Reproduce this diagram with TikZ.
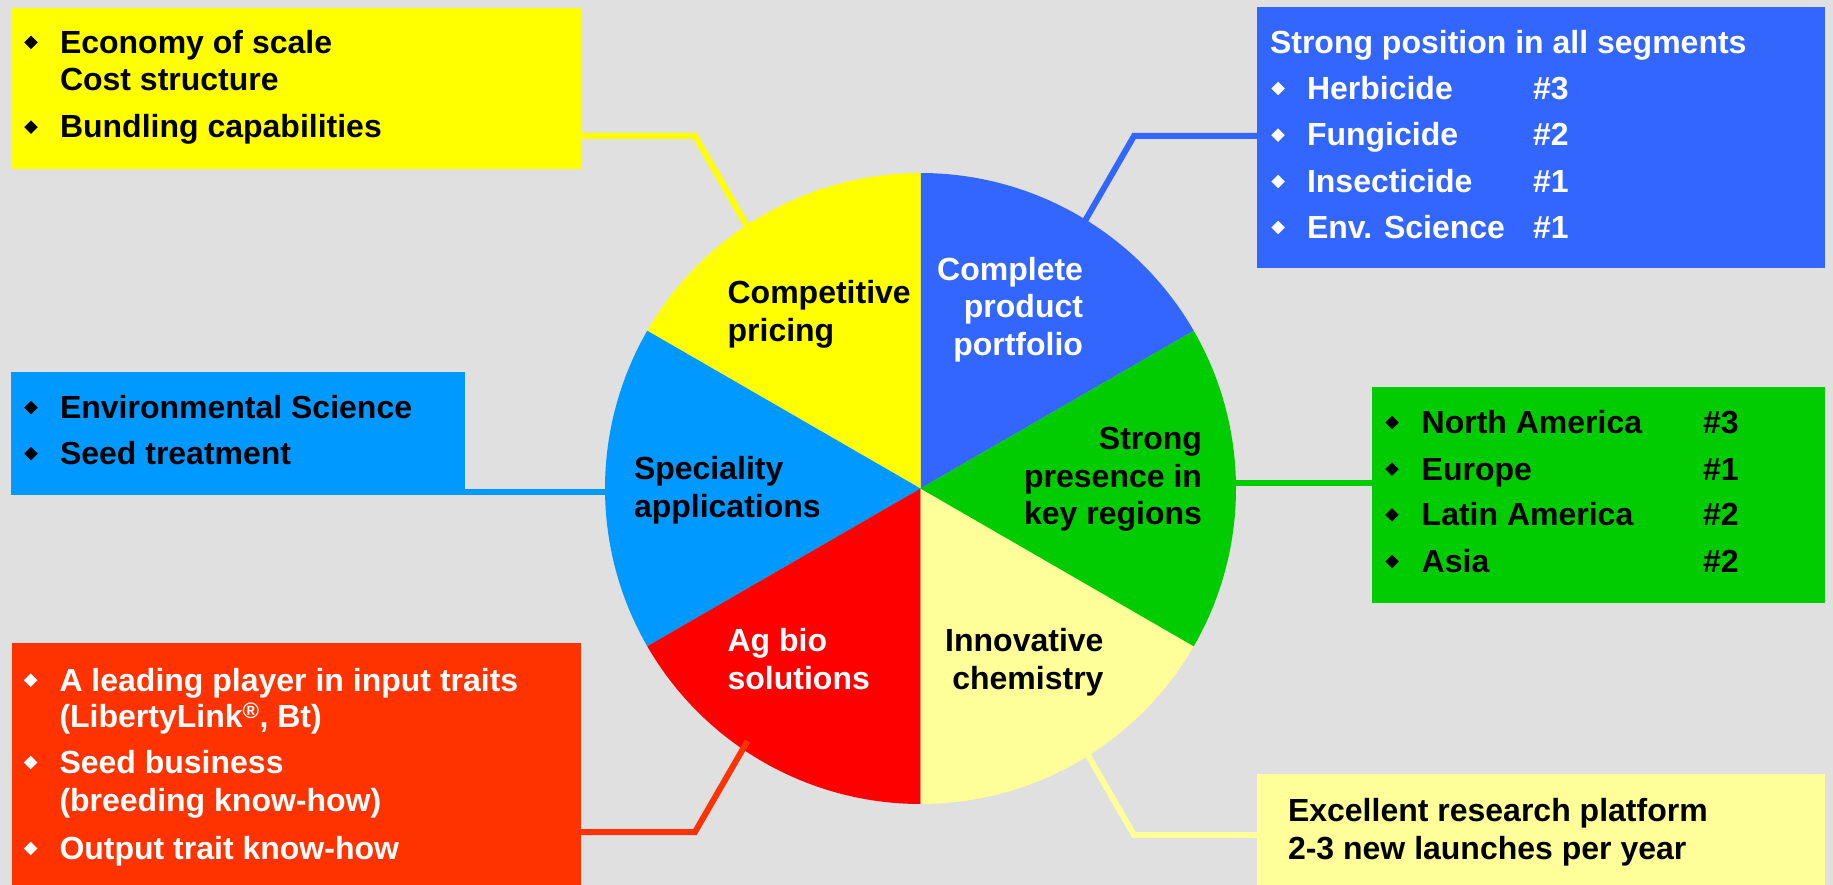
\documentclass[tikz,border=0pt]{standalone}
\usepackage{fontspec}
\setmainfont{Liberation Sans}
\usetikzlibrary{shapes.geometric,calc}
\definecolor{bg}{HTML}{E0E0E0}
\definecolor{cyel}{HTML}{FFFF00}
\definecolor{cblue}{HTML}{3366FF}
\definecolor{csky}{HTML}{0099FF}
\definecolor{cgreen}{HTML}{00CC00}
\definecolor{cred}{HTML}{FF0000}
\definecolor{corange}{HTML}{FF3300}
\definecolor{clyel}{HTML}{FFFF99}
\begin{document}
\begin{tikzpicture}[x=1pt,y=1pt,
  box/.style={anchor=north west, inner sep=0pt, outer sep=0pt},
  txt/.style={inner sep=0pt, outer sep=0pt, font=\fontsize{32}{38}\selectfont\bfseries},
  lw/.style={txt, anchor=base west},
  le/.style={txt, anchor=base east},
  bul/.style={diamond, fill, inner sep=0pt, outer sep=0pt, minimum width=13.5pt, minimum height=13.5pt},
  conn/.style={line width=6pt}
]
\fill[bg] (0,0) rectangle (1833,-885);
\useasboundingbox (0,0) rectangle (1833,-885);

% pie
\coordinate (C) at (920.5,-488.5);
\def\R{315.5}
\fill[cblue]  (C) -- ++(30:\R)  arc[start angle=30,  end angle=90,  radius=\R] -- cycle;
\fill[cyel]   (C) -- ++(90:\R)  arc[start angle=90,  end angle=150, radius=\R] -- cycle;
\fill[csky]   (C) -- ++(150:\R) arc[start angle=150, end angle=210, radius=\R] -- cycle;
\fill[cred]   (C) -- ++(210:\R) arc[start angle=210, end angle=270, radius=\R] -- cycle;
\fill[clyel]  (C) -- ++(270:\R) arc[start angle=270, end angle=330, radius=\R] -- cycle;
\fill[cgreen] (C) -- ++(330:\R) arc[start angle=330, end angle=390, radius=\R] -- cycle;

% boxes
\node[box, fill=cyel,    minimum width=570pt, minimum height=161pt] (ybox)  at (11,-8.5) {};
\node[box, fill=cblue,   minimum width=568pt, minimum height=261pt] (bbox)  at (1257,-7) {};
\node[box, fill=csky,    minimum width=454pt, minimum height=123pt] (sbox)  at (11,-372) {};
\node[box, fill=cgreen,  minimum width=453pt, minimum height=215.5pt] (gbox) at (1372,-387) {};
\node[box, fill=corange, minimum width=569pt, minimum height=242pt] (rbox)  at (11.5,-643) {};
\node[box, fill=clyel,   minimum width=568pt, minimum height=111pt] (lybox) at (1257,-774) {};

% connectors
\coordinate (ye) at (695,-136);
\coordinate (ya) at ($(ye)+(-60:108)$);
\coordinate (be) at (1134,-136);
\coordinate (ba) at ($(be)+(-120:100)$);
\coordinate (re) at (695,-832);
\coordinate (ra) at ($(re)+(60:105)$);
\coordinate (le) at (1134,-835);
\coordinate (la) at ($(le)+(120:96)$);
\coordinate (sa) at (612,-492);
\coordinate (ga) at (1230,-483);
\draw[conn, cyel]    (ye -| ybox.east) -- (ye) -- (ya);
\draw[conn, cblue]   (be -| bbox.west) -- (be) -- (ba);
\draw[conn, corange] (re -| rbox.east) -- (re) -- (ra);
\draw[conn, clyel]   (le -| lybox.west) -- (le) -- (la);
\draw[conn, csky]    (sa -| sbox.east) -- (sa);
\draw[conn, cgreen]  (ga -| gbox.west) -- (ga);

% yellow box text
\node[bul] (yb1) at (31,-42.5) {};
\node[lw] (yt1) at (60,-53.3) {Economy of scale};
\node[lw] (yt2) at (60,-90.7) {Cost structure};
\node[bul] (yb2) at (31,-127.2) {};
\node[lw] (yt3) at (60,-138) {Bundling capabilities};

% blue box text
\begin{scope}[white]
\node[lw, text=white] (bt0) at (1270,-53.3) {Strong position in all segments};
\node[bul] (bb1) at (1278,-88.5) {};
\node[lw, text=white] (bt1) at (1307,-99.3) {Herbicide};
\node[lw, text=white] (bn1) at (1533,-99.3) {\#3};
\node[bul] (bb2) at (1278,-135.2) {};
\node[lw, text=white] (bt2) at (1307,-146) {Fungicide};
\node[lw, text=white] (bn2) at (1533,-146) {\#2};
\node[bul] (bb3) at (1278,-181.5) {};
\node[lw, text=white] (bt3) at (1307,-192.3) {Insecticide};
\node[lw, text=white] (bn3) at (1533,-192.3) {\#1};
\node[bul] (bb4) at (1278,-227.5) {};
\node[lw, text=white] (bt4) at (1307,-238.3) {Env. Science};
\node[lw, text=white] (bn4) at (1533,-238.3) {\#1};
\end{scope}

% speciality box text
\node[bul] (sb1) at (31,-407.5) {};
\node[lw] (st1) at (60,-418.3) {Environmental Science};
\node[bul] (sb2) at (31,-453.5) {};
\node[lw] (st2) at (60,-464.3) {Seed treatment};

% green box text
\node[bul] (gb1) at (1392,-422.5) {};
\node[lw] (gt1) at (1421.7,-433.3) {North America};
\node[lw] (gn1) at (1703,-433.3) {\#3};
\node[bul] (gb2) at (1392,-469.2) {};
\node[lw] (gt2) at (1421.7,-480) {Europe};
\node[lw] (gn2) at (1703,-480) {\#1};
\node[bul] (gb3) at (1392,-514.9) {};
\node[lw] (gt3) at (1421.7,-525.7) {Latin America};
\node[lw] (gn3) at (1703,-525.7) {\#2};
\node[bul] (gb4) at (1392,-561.5) {};
\node[lw] (gt4) at (1421.7,-572.3) {Asia};
\node[lw] (gn4) at (1703,-572.3) {\#2};

% red box text
\begin{scope}[white]
\node[bul] (rb1) at (30.6,-680.2) {};
\node[lw, text=white] (rt1) at (59.5,-691) {A leading player in input traits};
\node[lw, text=white] (rt2) at (59.5,-727.3) {(LibertyLink\textsuperscript{\textregistered}, Bt)};
\node[bul] (rb2) at (30.6,-762.5) {};
\node[lw, text=white] (rt3) at (59.5,-773.3) {Seed business};
\node[lw, text=white] (rt4) at (59.5,-811.7) {(breeding know-how)};
\node[bul] (rb3) at (30.6,-848.5) {};
\node[lw, text=white] (rt5) at (59.5,-859.3) {Output trait know-how};
\end{scope}

% light yellow box text
\node[lw] (lt1) at (1288,-821) {Excellent research platform};
\node[lw] (lt2) at (1288,-859) {2-3 new launches per year};

% pie labels
\node[lw] (p1a) at (727.6,-303) {Competitive};
\node[lw] (p1b) at (727.6,-341) {pricing};
\node[le, text=white] (p2a) at (1083,-280) {Complete};
\node[le, text=white] (p2b) at (1083,-317.8) {product};
\node[le, text=white] (p2c) at (1083,-355.7) {portfolio};
\node[le] (p3a) at (1202,-449.6) {Strong};
\node[le] (p3b) at (1202,-487.4) {presence in};
\node[le] (p3c) at (1202,-524) {key regions};
\node[lw] (p4a) at (634,-479.9) {Speciality};
\node[lw] (p4b) at (634,-517.7) {applications};
\node[lw, text=white] (p5a) at (727.6,-651.6) {Ag bio};
\node[lw, text=white] (p5b) at (727.6,-689) {solutions};
\node[le] (p6a) at (1103.5,-651.6) {Innovative};
\node[le] (p6b) at (1103.5,-689) {chemistry};
\end{tikzpicture}
\end{document}
